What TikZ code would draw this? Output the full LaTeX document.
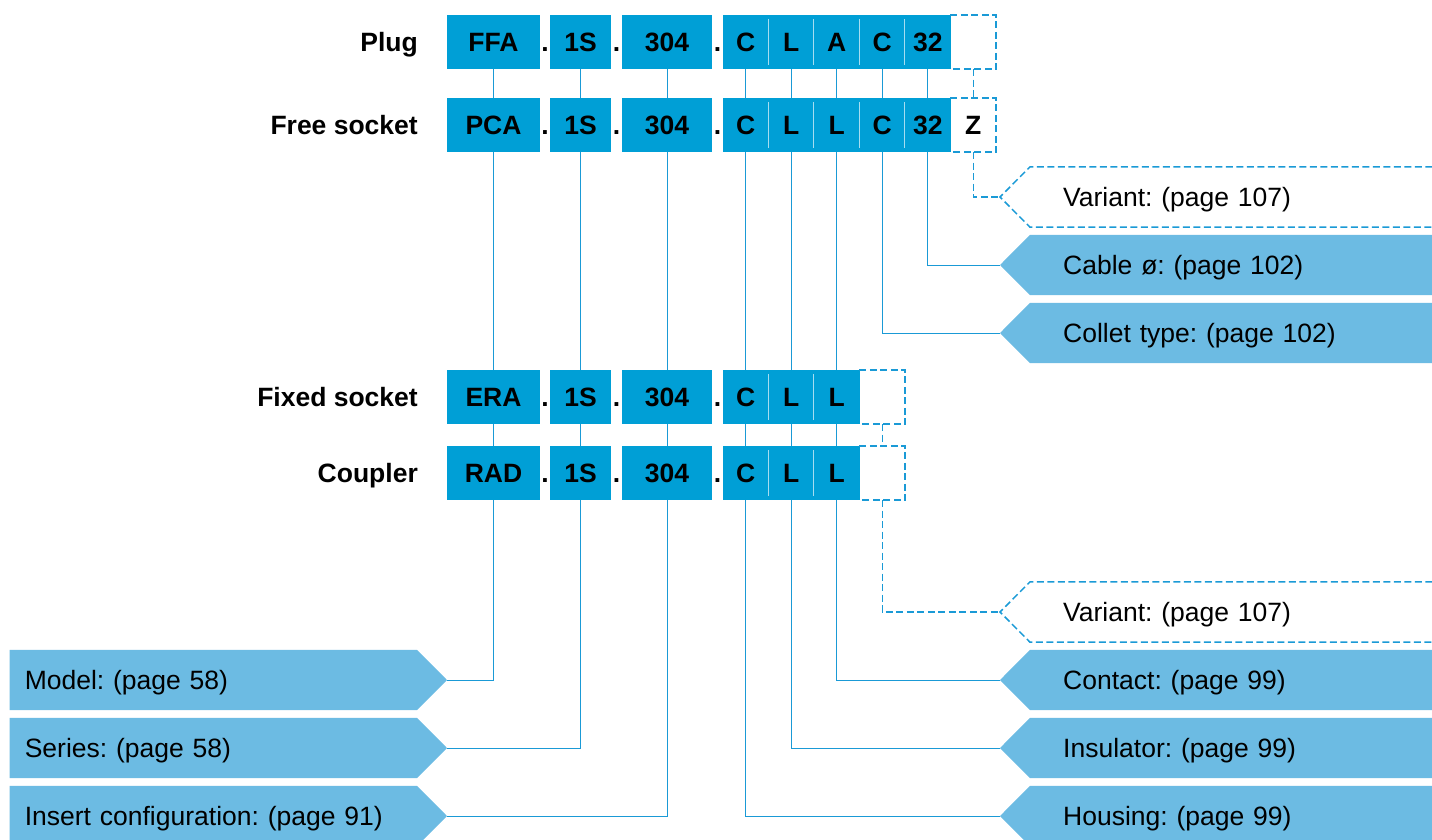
\documentclass[tikz,border=0pt]{standalone}
\usepackage{fontspec}
\setmainfont{Liberation Sans}
\usetikzlibrary{backgrounds}
\definecolor{codeblue}{HTML}{009FD6}
\definecolor{labelblue}{HTML}{6CBBE3}
\definecolor{lineblue}{HTML}{1A9AD6}
\frenchspacing

\begin{document}
\begin{tikzpicture}[x=1pt,y=-1pt,
	every node/.style={font=\fontsize{26.5}{30}\selectfont, text height=19pt, text depth=0pt},
	rowname/.style={anchor=east, inner sep=0pt, font=\fontsize{26.5}{30}\selectfont\bfseries},
	codebox/.style={fill=codeblue, inner sep=0pt, minimum height=54pt, font=\fontsize{26.5}{30}\selectfont\bfseries},
	codecell/.style={codebox, minimum width=45.5pt},
	optcell/.style={inner sep=0pt, minimum height=54pt, minimum width=45.5pt, font=\fontsize{26.5}{30}\selectfont\bfseries},
	codedot/.style={inner sep=0pt, font=\fontsize{26.5}{30}\selectfont\bfseries},
	rightlabel/.style={anchor=west, inner xsep=63pt, inner ysep=0pt, minimum height=60pt, text width=306pt, align=left},
	leftlabel/.style={anchor=east, inner xsep=15pt, inner ysep=0pt, minimum height=60pt, text width=407pt, align=left},
	link/.style={draw=lineblue, line width=1pt},
	optline/.style={draw=lineblue, line width=1.5pt, dash pattern=on 7pt off 3.5pt},
	divider/.style={draw=codeblue!35, line width=1.2pt}]
	\useasboundingbox (0,0) rectangle (1432,839);

	% plug
	\node[rowname] (plug) at (418,42) {Plug};
	\node[codebox, minimum width=93pt] (plugM) at (493.5,42) {FFA};
	\node[codedot] (plugD1) at (545,42) {.};
	\node[codebox, minimum width=61pt] (plugS) at (580.5,42) {1S};
	\node[codedot] (plugD2) at (616.5,42) {.};
	\node[codebox, minimum width=90pt] (plugI) at (667,42) {304};
	\node[codedot] (plugD3) at (717.5,42) {.};
	\node[codecell] (plugC) at (745.75,42) {C};
	\node[codecell] (plugL) at (791.25,42) {L};
	\node[codecell] (plugN) at (836.75,42) {A};
	\node[codecell] (plugK) at (882.25,42) {C};
	\node[codecell] (plugW) at (927.75,42) {32};
	\node[optcell] (plugV) at (973.25,42) {};

	% free socket
	\node[rowname] (free) at (418,125) {Free socket};
	\node[codebox, minimum width=93pt] (freeM) at (493.5,125) {PCA};
	\node[codedot] (freeD1) at (545,125) {.};
	\node[codebox, minimum width=61pt] (freeS) at (580.5,125) {1S};
	\node[codedot] (freeD2) at (616.5,125) {.};
	\node[codebox, minimum width=90pt] (freeI) at (667,125) {304};
	\node[codedot] (freeD3) at (717.5,125) {.};
	\node[codecell] (freeC) at (745.75,125) {C};
	\node[codecell] (freeL) at (791.25,125) {L};
	\node[codecell] (freeN) at (836.75,125) {L};
	\node[codecell] (freeK) at (882.25,125) {C};
	\node[codecell] (freeW) at (927.75,125) {32};
	\node[optcell] (freeV) at (973.25,125) {Z};

	% fixed socket
	\node[rowname] (fixed) at (418,397) {Fixed socket};
	\node[codebox, minimum width=93pt] (fixedM) at (493.5,397) {ERA};
	\node[codedot] (fixedD1) at (545,397) {.};
	\node[codebox, minimum width=61pt] (fixedS) at (580.5,397) {1S};
	\node[codedot] (fixedD2) at (616.5,397) {.};
	\node[codebox, minimum width=90pt] (fixedI) at (667,397) {304};
	\node[codedot] (fixedD3) at (717.5,397) {.};
	\node[codecell] (fixedC) at (745.75,397) {C};
	\node[codecell] (fixedL) at (791.25,397) {L};
	\node[codecell] (fixedN) at (836.75,397) {L};
	\node[optcell] (fixedV) at (882.25,397) {};

	% coupler
	\node[rowname] (coupler) at (418,473) {Coupler};
	\node[codebox, minimum width=93pt] (coupM) at (493.5,473) {RAD};
	\node[codedot] (coupD1) at (545,473) {.};
	\node[codebox, minimum width=61pt] (coupS) at (580.5,473) {1S};
	\node[codedot] (coupD2) at (616.5,473) {.};
	\node[codebox, minimum width=90pt] (coupI) at (667,473) {304};
	\node[codedot] (coupD3) at (717.5,473) {.};
	\node[codecell] (coupC) at (745.75,473) {C};
	\node[codecell] (coupL) at (791.25,473) {L};
	\node[codecell] (coupN) at (836.75,473) {L};
	\node[optcell] (coupV) at (882.25,473) {};

	% labels
	\node[rightlabel] (variantA) at (1000,197) {Variant: (page 107)};
	\node[rightlabel] (cable) at (1000,265) {Cable ø: (page 102)};
	\node[rightlabel] (collet) at (1000,333) {Collet type: (page 102)};
	\node[rightlabel] (variantB) at (1000,612) {Variant: (page 107)};
	\node[rightlabel] (contact) at (1000,680) {Contact: (page 99)};
	\node[rightlabel] (insulator) at (1000,748) {Insulator: (page 99)};
	\node[rightlabel] (housing) at (1000,816) {Housing: (page 99)};
	\node[leftlabel] (model) at (447,680) {Model: (page 58)};
	\node[leftlabel] (series) at (447,748) {Series: (page 58)};
	\node[leftlabel] (insert) at (447,816) {Insert configuration: (page 91)};

	\begin{scope}[on background layer]
		\fill[labelblue] (cable.west) -- ([xshift=30pt]cable.north west) -- (cable.north east) -- (cable.south east) -- ([xshift=30pt]cable.south west) -- cycle;
		\fill[labelblue] (collet.west) -- ([xshift=30pt]collet.north west) -- (collet.north east) -- (collet.south east) -- ([xshift=30pt]collet.south west) -- cycle;
		\fill[labelblue] (contact.west) -- ([xshift=30pt]contact.north west) -- (contact.north east) -- (contact.south east) -- ([xshift=30pt]contact.south west) -- cycle;
		\fill[labelblue] (insulator.west) -- ([xshift=30pt]insulator.north west) -- (insulator.north east) -- (insulator.south east) -- ([xshift=30pt]insulator.south west) -- cycle;
		\fill[labelblue] (housing.west) -- ([xshift=30pt]housing.north west) -- (housing.north east) -- (housing.south east) -- ([xshift=30pt]housing.south west) -- cycle;
		\fill[labelblue] (model.north west) -- ([xshift=-30pt]model.north east) -- (model.east) -- ([xshift=-30pt]model.south east) -- (model.south west) -- cycle;
		\fill[labelblue] (series.north west) -- ([xshift=-30pt]series.north east) -- (series.east) -- ([xshift=-30pt]series.south east) -- (series.south west) -- cycle;
		\fill[labelblue] (insert.north west) -- ([xshift=-30pt]insert.north east) -- (insert.east) -- ([xshift=-30pt]insert.south east) -- (insert.south west) -- cycle;
	\end{scope}

	% dashed outlines
	\path[optline] (plugV.north west) -- (plugV.north east) -- (plugV.south east) -- (plugV.south west);
	\path[optline] (freeV.north west) -- (freeV.north east) -- (freeV.south east) -- (freeV.south west);
	\path[optline] (fixedV.north west) -- (fixedV.north east) -- (fixedV.south east) -- (fixedV.south west);
	\path[optline] (coupV.north west) -- (coupV.north east) -- (coupV.south east) -- (coupV.south west);
	\path[optline] (variantA.north east) -- ([xshift=30pt]variantA.north west) -- (variantA.west) -- ([xshift=30pt]variantA.south west) -- (variantA.south east);
	\path[optline] (variantB.north east) -- ([xshift=30pt]variantB.north west) -- (variantB.west) -- ([xshift=30pt]variantB.south west) -- (variantB.south east);

	% cell dividers
	\path[divider] ([yshift=-4pt]plugL.north west) -- ([yshift=4pt]plugL.south west);
	\path[divider] ([yshift=-4pt]plugN.north west) -- ([yshift=4pt]plugN.south west);
	\path[divider] ([yshift=-4pt]plugK.north west) -- ([yshift=4pt]plugK.south west);
	\path[divider] ([yshift=-4pt]plugW.north west) -- ([yshift=4pt]plugW.south west);
	\path[divider] ([yshift=-4pt]freeL.north west) -- ([yshift=4pt]freeL.south west);
	\path[divider] ([yshift=-4pt]freeN.north west) -- ([yshift=4pt]freeN.south west);
	\path[divider] ([yshift=-4pt]freeK.north west) -- ([yshift=4pt]freeK.south west);
	\path[divider] ([yshift=-4pt]freeW.north west) -- ([yshift=4pt]freeW.south west);
	\path[divider] ([yshift=-4pt]fixedL.north west) -- ([yshift=4pt]fixedL.south west);
	\path[divider] ([yshift=-4pt]fixedN.north west) -- ([yshift=4pt]fixedN.south west);
	\path[divider] ([yshift=-4pt]coupL.north west) -- ([yshift=4pt]coupL.south west);
	\path[divider] ([yshift=-4pt]coupN.north west) -- ([yshift=4pt]coupN.south west);

	% plug to free socket
	\path [link](plugM) edge (freeM);
	\path [link](plugS) edge (freeS);
	\path [link](plugI) edge (freeI);
	\path [link](plugC) edge (freeC);
	\path [link](plugL) edge (freeL);
	\path [link](plugN) edge (freeN);
	\path [link](plugK) edge (freeK);
	\path [link](plugW) edge (freeW);
	\path [optline](plugV) edge (freeV);

	% free socket to fixed socket
	\path [link](freeM) edge (fixedM);
	\path [link](freeS) edge (fixedS);
	\path [link](freeI) edge (fixedI);
	\path [link](freeC) edge (fixedC);
	\path [link](freeL) edge (fixedL);
	\path [link](freeN) edge (fixedN);
	\path [link](freeW) |- (cable.west);
	\path [link](freeK) |- (collet.west);
	\path [optline](freeV) |- (variantA.west);

	% fixed socket to coupler
	\path [link](fixedM) edge (coupM);
	\path [link](fixedS) edge (coupS);
	\path [link](fixedI) edge (coupI);
	\path [link](fixedC) edge (coupC);
	\path [link](fixedL) edge (coupL);
	\path [link](fixedN) edge (coupN);
	\path [optline](fixedV) edge (coupV);

	% coupler to labels
	\path [link](coupM) |- (model.east);
	\path [link](coupS) |- (series.east);
	\path [link](coupI) |- (insert.east);
	\path [link](coupN) |- (contact.west);
	\path [link](coupL) |- (insulator.west);
	\path [link](coupC) |- (housing.west);
	\path [optline](coupV) |- (variantB.west);
\end{tikzpicture}
\end{document}
